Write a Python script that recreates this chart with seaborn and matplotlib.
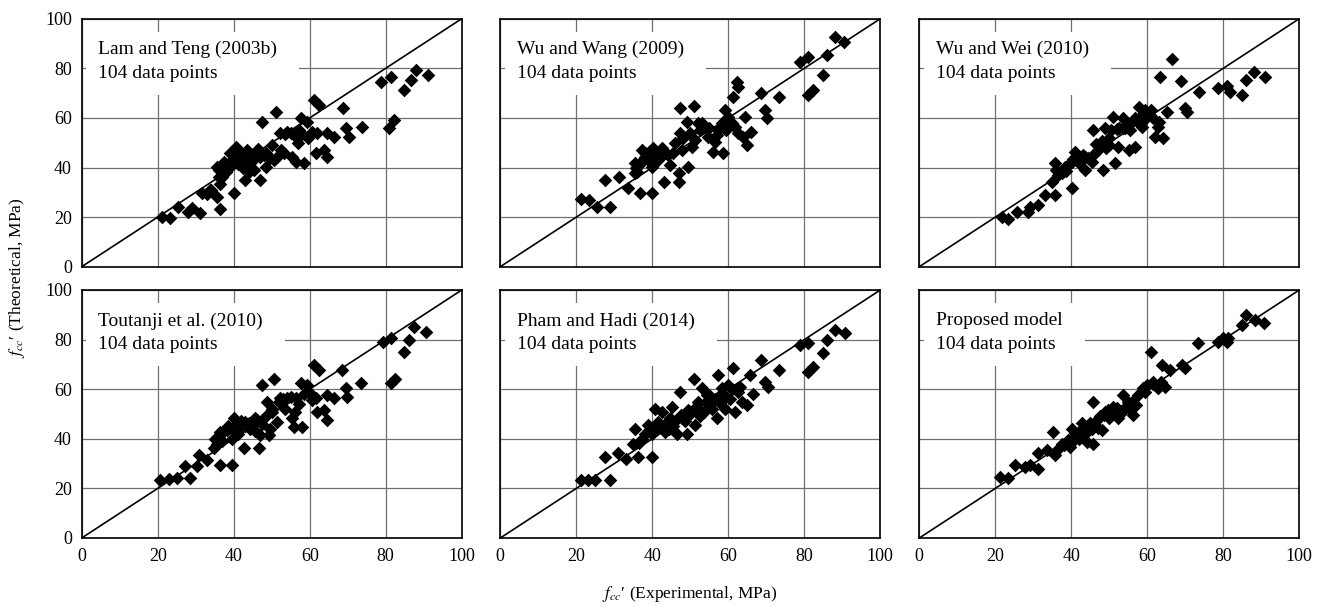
import numpy as np
import pandas as pd
import matplotlib
matplotlib.use("Agg")
import matplotlib.pyplot as plt
from matplotlib.patches import Rectangle
import seaborn as sns

# ---------------- data ----------------
titles = ["Lam and Teng (2003b)", "Wu and Wang (2009)", "Wu and Wei (2010)",
          "Toutanji et al. (2010)", "Pham and Hadi (2014)", "Proposed model"]
n_points_label = "104 data points"
ticks = [0, 20, 40, 60, 80, 100]

lam_x = [21.1, 23.3, 25.3, 28.0, 29.0, 31.0, 31.7, 33.7, 36.5, 35.6, 36.0, 35.6, 37.4, 40.0, 40.5,
         40.9, 39.1, 41.8, 43.1, 43.6, 44.4, 45.3, 47.0, 47.0, 47.5, 48.4, 50.1, 51.0, 51.4, 52.3,
         53.2, 54.1, 55.4, 56.3, 57.2, 57.6, 58.5, 59.4, 61.1, 62.4, 61.6, 62.0, 63.8, 64.6, 64.6,
         66.4, 68.8, 69.5, 70.4, 73.7, 78.7, 81.4, 80.9, 82.2, 84.9, 86.6, 88.0, 91.0,
         38.5, 39.5, 41.0, 42.0, 42.5, 43.0, 44.0, 45.0, 46.0, 38.0, 37.0, 36.5, 39.0, 44.0, 48.5,
         49.5, 52.5, 53.5, 55.8, 58.0, 59.5, 60.5, 57.0, 50.5, 34.0, 33.0, 36.0, 46.5, 48.0, 55.0]
lam_y = [20.2, 19.5, 23.9, 22.2, 23.5, 21.5, 29.8, 30.9, 23.1, 28.2, 36.3, 40.3, 42.3, 29.8, 48.4,
         44.4, 40.3, 45.7, 34.9, 47.0, 41.7, 39.0, 34.9, 44.4, 58.5, 40.3, 49.1, 62.5, 44.4, 53.8,
         45.7, 54.4, 44.4, 42.3, 55.1, 59.8, 41.7, 58.5, 67.2, 65.2, 45.7, 53.8, 47.0, 44.4, 53.8,
         52.4, 63.8, 55.8, 52.4, 56.5, 74.6, 76.6, 55.8, 59.1, 71.2, 75.3, 79.3, 77.3,
         41.0, 43.0, 41.5, 43.0, 40.0, 44.0, 45.5, 43.0, 46.5, 38.0, 36.0, 33.5, 46.0, 38.0, 46.0,
         44.0, 47.0, 53.5, 53.0, 53.5, 52.0, 54.5, 50.0, 43.0, 31.0, 29.5, 39.0, 47.5, 45.0, 54.0]

wang_x = [21.2, 23.4, 25.4, 28.9, 27.6, 31.2, 33.5, 35.4, 35.4, 36.8, 39.8, 37.2, 39.0, 40.3, 41.6,
          42.5, 39.8, 38.1, 43.2, 44.7, 46.9, 46.9, 49.5, 46.0, 47.3, 47.7, 49.0, 47.3, 50.9, 50.4,
          51.2, 52.1, 53.4, 54.7, 56.1, 56.5, 57.4, 58.3, 58.7, 59.1, 60.0, 61.3, 62.2, 62.6, 61.7,
          62.6, 63.9, 64.8, 64.4, 66.1, 68.5, 69.6, 70.1, 73.3, 78.9, 81.1, 81.1, 82.4, 85.0, 85.9,
          88.1, 90.5,
          38.0, 38.8, 39.5, 40.5, 41.0, 42.0, 43.0, 44.0, 37.5, 36.5, 39.0, 41.5, 45.5, 48.0, 52.5,
          53.0, 55.0, 57.0, 59.5, 61.0, 36.0, 35.8, 50.0]
wang_y = [27.2, 26.9, 24.2, 24.2, 34.9, 36.3, 31.6, 37.6, 41.7, 29.6, 29.6, 47.0, 45.7, 47.7, 45.7,
          47.7, 40.3, 44.4, 34.3, 41.0, 37.6, 34.3, 40.3, 49.7, 53.8, 47.0, 58.5, 63.8, 64.8, 48.4,
          51.1, 57.8, 56.5, 52.4, 46.4, 50.4, 55.1, 57.8, 45.7, 63.2, 60.5, 68.5, 74.6, 72.6, 56.5,
          53.8, 52.4, 49.1, 60.5, 54.4, 69.9, 63.2, 59.8, 68.5, 82.7, 84.7, 69.2, 71.2, 77.3, 85.3,
          92.7, 90.7,
          46.0, 44.0, 46.5, 44.0, 46.0, 44.5, 46.0, 45.0, 43.0, 41.0, 42.5, 43.0, 46.0, 52.0, 55.0,
          58.0, 56.0, 53.0, 55.0, 58.0, 38.0, 40.0, 54.0]

wei_x = [21.7, 23.4, 25.6, 28.7, 29.1, 31.3, 33.1, 35.7, 34.8, 36.1, 35.7, 37.5, 40.1, 38.4, 40.1,
         41.0, 41.9, 43.7, 43.7, 45.4, 45.8, 47.1, 48.4, 48.9, 49.8, 51.1, 51.5, 52.4, 53.7, 54.2,
         55.1, 56.8, 56.8, 57.8, 58.5, 59.4, 61.1, 62.0, 62.9, 64.2, 63.4, 65.1, 66.4, 68.9, 70.4,
         73.6, 78.7, 80.9, 81.8, 85.0, 86.1, 88.2, 90.9,
         38.0, 39.0, 40.5, 42.0, 43.0, 44.5, 46.0, 47.5, 49.0, 50.5, 52.0, 53.5, 55.0, 57.5, 59.0,
         60.5, 36.5, 38.5, 41.5, 46.5, 48.0, 50.0, 52.5, 55.5, 58.0, 61.5, 63.0, 70.0]
wei_y = [19.9, 19.1, 22.2, 22.2, 24.2, 24.9, 28.9, 28.9, 34.3, 39.0, 41.7, 37.6, 31.6, 40.3, 42.3,
         46.4, 41.7, 44.4, 39.0, 42.3, 55.1, 47.0, 39.0, 55.8, 49.1, 60.5, 41.7, 48.4, 59.8, 55.8,
         47.0, 59.8, 48.4, 64.5, 56.5, 63.2, 63.2, 52.4, 56.5, 51.7, 76.6, 62.5, 83.6, 75.0, 62.5,
         70.6, 71.9, 72.8, 70.6, 69.2, 75.3, 78.6, 76.6,
         39.5, 41.0, 43.5, 42.5, 45.0, 44.0, 45.5, 48.5, 48.0, 55.0, 55.5, 56.0, 57.5, 58.5, 59.0,
         61.5, 37.0, 38.5, 43.0, 49.5, 50.5, 52.0, 56.0, 55.0, 60.5, 60.0, 58.5, 64.0]

tout_x = [20.7, 22.9, 25.1, 28.6, 27.3, 30.8, 30.3, 33.0, 36.5, 39.6, 34.7, 35.6, 36.5, 38.3, 39.6,
          40.0, 41.3, 42.7, 43.1, 44.4, 45.7, 46.6, 47.0, 47.5, 50.6, 48.8, 49.2, 50.1, 51.5, 52.3,
          54.1, 55.4, 55.8, 57.2, 57.6, 58.0, 59.4, 61.1, 62.4, 61.6, 62.0, 63.8, 64.6, 64.6, 66.4,
          68.4, 69.5, 69.9, 73.4, 79.2, 81.4, 81.4, 82.4, 84.7, 86.2, 87.5, 90.6,
          37.5, 38.5, 39.5, 40.5, 41.5, 42.0, 43.0, 44.0, 45.0, 46.0, 47.5, 48.5, 50.0, 52.0, 53.0,
          55.0, 56.5, 58.5, 60.0, 36.0, 35.0, 37.0, 41.0, 45.5, 49.5, 53.5, 56.0, 60.5]
tout_y = [23.3, 23.7, 24.0, 24.0, 29.1, 33.4, 29.1, 31.4, 29.6, 29.6, 36.1, 38.1, 42.8, 43.5, 40.1,
          48.2, 45.5, 36.1, 46.8, 44.1, 48.2, 36.1, 41.5, 61.6, 64.3, 54.9, 41.5, 50.9, 46.8, 56.3,
          56.3, 48.2, 44.8, 54.2, 62.3, 44.8, 61.6, 69.7, 67.7, 56.3, 50.9, 51.5, 47.5, 57.6, 56.3,
          67.7, 60.3, 56.9, 62.3, 79.1, 80.5, 62.3, 64.3, 75.1, 79.8, 85.2, 82.9,
          43.0, 45.0, 44.0, 46.0, 44.5, 47.0, 45.0, 46.5, 45.5, 47.5, 46.0, 49.0, 52.0, 55.0, 56.0,
          57.0, 56.5, 58.0, 58.5, 41.0, 40.0, 39.0, 42.0, 43.0, 44.0, 52.0, 51.0, 55.5]

pham_x = [21.2, 23.2, 25.0, 28.9, 27.6, 31.1, 33.2, 35.4, 36.3, 39.8, 35.0, 37.2, 38.9, 40.7, 42.5,
          41.6, 43.4, 44.7, 45.1, 46.4, 47.3, 49.0, 47.7, 49.5, 51.0, 51.2, 52.1, 53.0, 54.3, 55.6,
          56.9, 57.4, 58.3, 59.1, 60.0, 61.3, 61.8, 62.6, 63.5, 64.8, 65.7, 68.6, 69.6, 70.4, 73.3,
          78.9, 81.1, 81.1, 82.4, 85.0, 86.1, 88.1, 90.7,
          38.0, 39.5, 41.0, 42.0, 43.5, 44.5, 46.0, 47.5, 48.5, 50.0, 51.5, 52.5, 54.0, 55.0, 56.5,
          58.0, 59.5, 61.0, 62.5, 36.5, 40.0, 45.5, 53.5, 57.5, 60.5, 63.0, 66.5]
pham_y = [23.3, 23.3, 23.3, 23.3, 32.7, 34.1, 32.0, 44.1, 32.7, 32.7, 38.1, 40.1, 45.5, 52.2, 50.9,
          46.8, 42.8, 48.2, 52.9, 42.1, 58.9, 42.1, 48.2, 51.5, 64.3, 45.5, 54.9, 60.3, 57.6, 52.2,
          48.2, 65.7, 60.3, 52.2, 61.6, 68.4, 50.9, 58.9, 54.9, 53.6, 65.7, 71.7, 63.0, 61.0, 67.7,
          77.8, 78.5, 67.0, 69.0, 74.4, 79.8, 83.8, 82.5,
          42.0, 43.5, 44.0, 45.0, 46.5, 44.0, 47.0, 49.5, 47.0, 50.0, 53.0, 49.0, 55.0, 57.5, 56.0,
          58.0, 57.0, 60.0, 60.5, 38.5, 42.0, 45.0, 51.0, 55.0, 56.0, 61.0, 58.0]

prop_x = [21.3, 23.4, 25.2, 27.8, 29.1, 31.3, 31.3, 33.5, 35.3, 35.7, 37.5, 39.7, 40.1, 41.9, 42.7,
          44.0, 45.4, 45.8, 45.8, 48.0, 48.9, 49.7, 51.1, 52.4, 53.7, 55.0, 56.3, 57.6, 58.9, 61.1,
          61.6, 62.9, 63.8, 64.7, 66.0, 69.9, 69.0, 73.4, 78.7, 80.9, 81.3, 84.8, 86.1, 88.3, 90.8,
          36.5, 38.0, 39.0, 40.5, 41.0, 42.0, 43.0, 43.5, 44.5, 46.5, 47.0, 47.5, 50.0, 51.5, 53.0,
          54.5, 56.0, 57.0, 59.5, 60.0, 61.5, 62.5, 63.5, 40.0, 42.5, 45.0, 48.5, 52.0, 55.5, 80.0]
prop_y = [24.6, 24.0, 29.3, 28.7, 29.3, 28.0, 34.1, 35.4, 42.8, 33.4, 38.1, 36.7, 44.1, 40.1, 46.2,
          38.8, 44.1, 38.1, 54.9, 43.5, 50.9, 51.5, 52.9, 48.2, 57.6, 54.9, 49.5, 57.6, 60.3, 75.1,
          63.0, 60.3, 69.7, 61.0, 67.7, 68.4, 69.7, 78.5, 79.1, 78.9, 80.5, 85.9, 89.9, 87.9, 86.5,
          36.0, 37.5, 39.5, 40.5, 42.5, 41.0, 44.5, 42.0, 45.0, 47.0, 44.5, 49.0, 48.5, 51.0, 50.5,
          53.0, 55.0, 53.5, 59.0, 61.5, 62.0, 61.0, 63.0, 38.5, 43.5, 46.5, 49.5, 52.5, 52.0, 80.5]

panels_x = [lam_x, wang_x, wei_x, tout_x, pham_x, prop_x]
panels_y = [lam_y, wang_y, wei_y, tout_y, pham_y, prop_y]

# ---------------- styling ----------------
sns.set_theme(style="white")
plt.rcParams["font.family"] = ["Liberation Serif", "DejaVu Serif"]
plt.rcParams["mathtext.fontset"] = "stix"
for k in ["text.color", "axes.labelcolor", "xtick.color", "ytick.color"]:
    plt.rcParams[k] = "black"

W, H = 1324, 607
fig = plt.figure(figsize=(W / 100, H / 100), dpi=100)

lefts = [81.7, 500.3, 919.3]
tops = [18.7, 290.0]
aw, ah = 380.0, 248.0

axes, texts = [], []
for i in range(6):
    r, c = divmod(i, 3)
    ax = fig.add_axes([lefts[c] / W, 1 - (tops[r] + ah) / H, aw / W, ah / H])
    df = pd.DataFrame({"exp": panels_x[i], "theo": panels_y[i]})
    ax.set_axisbelow(True)
    ax.grid(True, color="#707070", linewidth=0.9)
    ax.axline((0, 0), slope=1, color="black", linewidth=1.2, zorder=2)
    sns.scatterplot(data=df, x="exp", y="theo", ax=ax, marker="D", color="black",
                    s=48, linewidth=0, zorder=3)
    ax.set_xlim(0, 100)
    ax.set_ylim(0, 100)
    ax.set_xticks(ticks)
    ax.set_yticks(ticks)
    ax.tick_params(length=0, labelsize=13, pad=7)
    if r == 0:
        ax.set_xticklabels([])
    if c != 0:
        ax.set_yticklabels([])
    ax.set_xlabel("")
    ax.set_ylabel("")
    for sp in ax.spines.values():
        sp.set_color("black")
        sp.set_linewidth(1.2)
    t = ax.text(0.044, 0.91, titles[i] + "\n" + n_points_label, transform=ax.transAxes,
                ha="left", va="top", fontsize=14, linespacing=1.5, zorder=1.6)
    axes.append(ax)
    texts.append(t)

# white label boxes that hide the grid behind the panel notes
renderer = fig.canvas.get_renderer()
for ax, t in zip(axes, texts):
    bb = t.get_window_extent(renderer=renderer)
    x0, y0 = bb.x0 - 12, bb.y0 - 13
    x1, y1 = bb.x1 + 22, bb.y1 + 9
    inv = ax.transAxes.inverted()
    (ax0, ay0), (ax1, ay1) = inv.transform([(x0, y0), (x1, y1)])
    ax.add_patch(Rectangle((ax0, ay0), ax1 - ax0, ay1 - ay0, transform=ax.transAxes,
                           facecolor="white", edgecolor="none", zorder=1.5))

fig.text(690 / W, 1 - 594 / H, "$f_{cc}$′ (Experimental, MPa)", ha="center", va="center",
         fontsize=12.5)
fig.text(17 / W, 1 - 278 / H, "$f_{cc}$′ (Theoretical, MPa)", ha="center", va="center",
         rotation=90, fontsize=12.5)

fig.savefig("out.png", dpi=100)
